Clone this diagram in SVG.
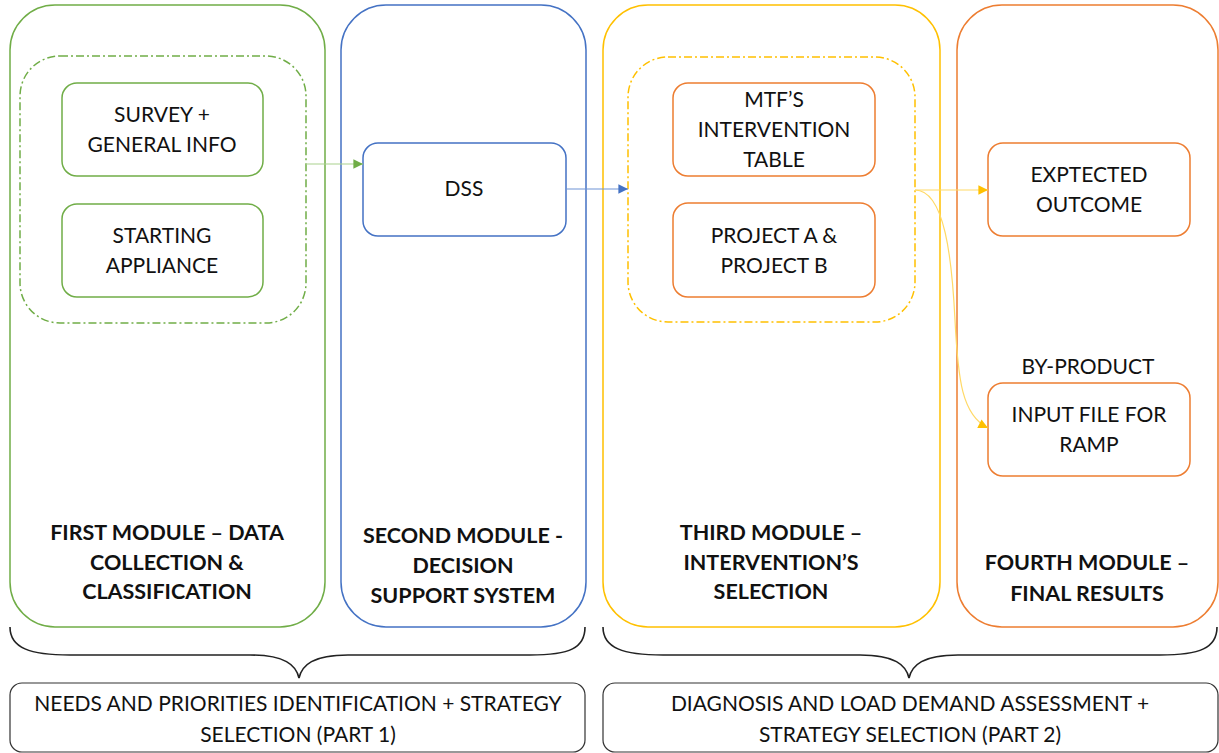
<svg xmlns="http://www.w3.org/2000/svg" width="1219" height="753" viewBox="0 0 1219 753">
  <style>
    .t { font-family: Lato, "Liberation Sans", sans-serif; font-size: 21px; fill: #111; text-anchor: middle; }
    .b { font-weight: bold; font-size: 21.5px; }
    .mod { fill: #fff; stroke-width: 1.5; }
    .box { fill: #fff; stroke-width: 1.5; }
    .grp { fill: none; stroke-width: 1.5; stroke-dasharray: 8 3 2 3; }
    .g { stroke: #70AD47; }
    .bl { stroke: #4472C4; }
    .y { stroke: #FFC000; }
    .o { stroke: #ED7D31; }
    .brace { fill: none; stroke: #222; stroke-width: 1.6; }
    .sum { fill: #fff; stroke: #333; stroke-width: 1.2; }
  </style>
  <defs>
    <marker id="ag" viewBox="0 0 10 10" refX="10" refY="5" markerWidth="9" markerHeight="8" orient="auto"><path d="M0 0 L10 5 L0 10 z" fill="#70AD47"/></marker>
    <marker id="ab" viewBox="0 0 10 10" refX="10" refY="5" markerWidth="9" markerHeight="8" orient="auto"><path d="M0 0 L10 5 L0 10 z" fill="#4472C4"/></marker>
    <marker id="ay" viewBox="0 0 10 10" refX="10" refY="5" markerWidth="9" markerHeight="8" orient="auto"><path d="M0 0 L10 5 L0 10 z" fill="#FFC000"/></marker>
  </defs>

  <!-- module containers -->
  <g id="module1">
    <rect class="mod g" x="10" y="5" width="315" height="622" rx="45"/>
    <rect class="grp g" x="20" y="56" width="286" height="267" rx="40"/>
    <text class="t b" x="167" y="540">FIRST MODULE – DATA</text>
    <text class="t b" x="167" y="570">COLLECTION &amp;</text>
    <text class="t b" x="167" y="599">CLASSIFICATION</text>
  </g>
  <g id="survey">
    <rect class="box g" x="62" y="83" width="201" height="93" rx="15"/>
    <text class="t" x="162" y="122">SURVEY +</text>
    <text class="t" x="162" y="152">GENERAL INFO</text>
  </g>
  <g id="appliance">
    <rect class="box g" x="62" y="204" width="201" height="93" rx="15"/>
    <text class="t" x="162" y="243">STARTING</text>
    <text class="t" x="162" y="273">APPLIANCE</text>
  </g>

  <g id="module2">
    <rect class="mod bl" x="341" y="5" width="245" height="622" rx="45"/>
    <text class="t b" x="463" y="543">SECOND MODULE -</text>
    <text class="t b" x="463" y="573">DECISION</text>
    <text class="t b" x="463" y="603">SUPPORT SYSTEM</text>
  </g>
  <g id="dss">
    <rect class="box bl" x="363" y="143" width="203" height="93" rx="15"/>
    <text class="t" x="464" y="196">DSS</text>
  </g>

  <g id="module3">
    <rect class="mod y" x="603" y="5" width="337" height="622" rx="45"/>
    <rect class="grp y" x="628" y="57" width="287" height="265" rx="40"/>
    <text class="t b" x="771" y="540">THIRD MODULE –</text>
    <text class="t b" x="771" y="570">INTERVENTION’S</text>
    <text class="t b" x="771" y="599">SELECTION</text>
  </g>
  <g id="mtf">
    <rect class="box o" x="673" y="83" width="202" height="93" rx="15"/>
    <text class="t" x="774" y="107">MTF’S</text>
    <text class="t" x="774" y="137">INTERVENTION</text>
    <text class="t" x="774" y="167">TABLE</text>
  </g>
  <g id="projects">
    <rect class="box o" x="673" y="203" width="202" height="94" rx="15"/>
    <text class="t" x="774" y="243">PROJECT A &amp;</text>
    <text class="t" x="774" y="273">PROJECT B</text>
  </g>

  <g id="module4">
    <rect class="mod o" x="957" y="5" width="261" height="622" rx="45"/>
    <text class="t b" x="1087" y="570">FOURTH MODULE –</text>
    <text class="t b" x="1087" y="601">FINAL RESULTS</text>
  </g>
  <g id="outcome">
    <rect class="box o" x="988" y="143" width="202" height="93" rx="15"/>
    <text class="t" x="1089" y="182">EXPTECTED</text>
    <text class="t" x="1089" y="212">OUTCOME</text>
  </g>
  <g id="ramp">
    <text class="t" x="1088" y="374">BY-PRODUCT</text>
    <rect class="box o" x="988" y="383" width="202" height="93" rx="15"/>
    <text class="t" x="1089" y="422">INPUT FILE FOR</text>
    <text class="t" x="1089" y="452">RAMP</text>
  </g>

  <!-- connectors -->
  <g id="connectors" fill="none" stroke-width="1.2">
    <path d="M306 164 H363" stroke="#A9D18E" marker-end="url(#ag)"/>
    <path d="M566 189 H628" stroke="#6F94D6" marker-end="url(#ab)"/>
    <path d="M915 190 H988" stroke="#FFD966" marker-end="url(#ay)"/>
    <path d="M915 190 C945 190 952 260 955 320 C958 380 962 415 988 428" stroke="#FFD966" marker-end="url(#ay)"/>
  </g>

  <!-- summary braces and boxes -->
  <g id="part1">
    <path class="brace" d="M10 627 C10 648 30 655 70 655 H250 C285 655 296 665 299 678 C302 665 313 655 348 655 H530 C570 655 585 648 585 627"/>
    <rect class="sum" x="10" y="683" width="575" height="69" rx="12"/>
    <text class="t" x="298" y="711">NEEDS AND PRIORITIES IDENTIFICATION + STRATEGY</text>
    <text class="t" x="298" y="742">SELECTION (PART 1)</text>
  </g>
  <g id="part2">
    <path class="brace" d="M603 627 C603 648 623 655 663 655 H860 C895 655 906 665 909 678 C912 665 923 655 958 655 H1160 C1200 655 1217 648 1217 627"/>
    <rect class="sum" x="603" y="683" width="615" height="69" rx="12"/>
    <text class="t" x="910" y="711">DIAGNOSIS AND LOAD DEMAND ASSESSMENT +</text>
    <text class="t" x="910" y="742">STRATEGY SELECTION (PART 2)</text>
  </g>
</svg>
